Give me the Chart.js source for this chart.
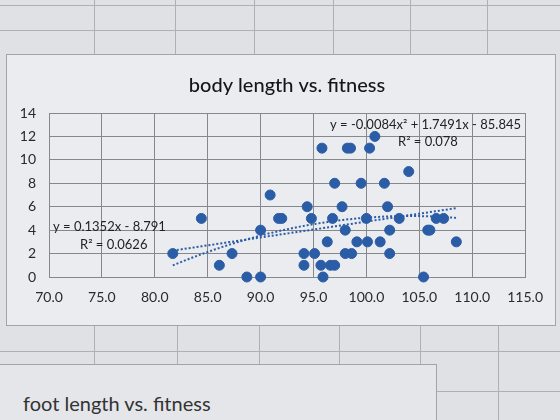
<!DOCTYPE html>
<html>
<head>
<meta charset="utf-8">
<script src="https://cdn.jsdelivr.net/npm/chart.js@4.4.0/dist/chart.umd.min.js"></script>
<style>
  body { margin: 0; width: 560px; height: 420px; overflow: hidden; background: #dfe1e5; position: relative; font-family: Lato, sans-serif; }
  .h { position: absolute; height: 1px; background: #aeb0b4; }
  .v { position: absolute; width: 1px; background: #aeb0b4; }
  #caja { position: absolute; left: 6px; top: 54px; width: 548px; height: 270px; border: 1px solid #a2a4a8; background: #eaecef; }
  #caja2 { position: absolute; left: -1px; top: 364px; width: 436px; height: 70px; border: 1px solid #a2a4a8; background: #e4e6e9; }
  #caja2 span { position: absolute; left: 23px; top: 26px; font-size: 20px; color: #333; }
</style>
</head>
<body>
<!-- lineas de la hoja de calculo -->
<div class="h" style="left:0;top:5px;width:560px"></div>
<div class="h" style="left:0;top:30px;width:560px"></div>
<div class="v" style="left:94px;top:0;height:54px"></div>
<div class="v" style="left:175px;top:0;height:54px"></div>
<div class="v" style="left:254px;top:0;height:54px"></div>
<div class="v" style="left:333px;top:0;height:54px"></div>
<div class="v" style="left:410px;top:0;height:54px"></div>
<div class="v" style="left:487px;top:0;height:54px"></div>
<div class="h" style="left:0;top:351px;width:560px"></div>
<div class="h" style="left:435px;top:391px;width:125px"></div>
<div class="v" style="left:94px;top:325px;height:40px"></div>
<div class="v" style="left:177px;top:325px;height:40px"></div>
<div class="v" style="left:259px;top:325px;height:40px"></div>
<div class="v" style="left:339px;top:325px;height:40px"></div>
<div class="v" style="left:420px;top:325px;height:40px"></div>
<div class="v" style="left:498px;top:325px;height:100px"></div>

<div id="caja"><canvas id="grafica" width="548" height="270"></canvas></div>
<div id="caja2"><span>foot length vs. fitness</span></div>

<script>
// datos
const longitud = [81.7, 84.4, 86.1, 87.3, 88.7, 90.0, 90.0, 90.9, 91.7, 92.0,
  94.4, 94.8, 97.0, 96.8, 96.3, 94.1, 95.1, 94.1, 95.7, 96.6,
  97.0, 95.9, 97.7, 98.0, 98.0, 98.6, 99.1, 99.5, 100.0, 100.1,
  101.3, 101.7, 102.0, 102.2, 102.2, 103.1, 104.0, 105.4, 105.8, 106.0,
  106.6, 107.3, 108.5, 100.8, 95.8, 98.2, 98.5, 100.3];
const fitness = [2, 5, 1, 2, 0, 0, 4, 7, 5, 5,
  6, 5, 8, 5, 3, 2, 2, 1, 1, 1,
  1, 0, 6, 4, 2, 2, 3, 8, 5, 3,
  3, 8, 6, 4, 2, 5, 9, 0, 4, 4,
  5, 5, 3, 12, 11, 11, 11, 11];

// coeficientes de las lineas de tendencia (de las ecuaciones del grafico)
const coefLineal = [-8.791, 0.1352];
const coefCuadratica = [-85.845, 1.7491, -0.0084];

const ticksX = [70, 75, 80, 85, 90, 95, 100, 105, 110, 115];
const ticksY = [0, 2, 4, 6, 8, 10, 12, 14];

const puntos = longitud.map((x, i) => ({ x: x, y: fitness[i] }));

function tendencia(coef) {
  const xmin = Math.min(...longitud), xmax = Math.max(...longitud);
  const pts = [];
  for (let k = 0; k <= 40; k++) {
    const x = xmin + (xmax - xmin) * k / 40;
    let y = 0;
    coef.forEach((c, p) => { y += c * Math.pow(x, p); });
    pts.push({ x: x, y: y });
  }
  return pts;
}

const azul = '#2b5ca6';
const gris = '#86888c';

// textos: titulo y ecuaciones
const textos = {
  id: 'textos',
  afterDraw(chart) {
    const ctx = chart.ctx;
    ctx.save();
    ctx.fillStyle = '#161616';
    ctx.textBaseline = 'middle';
    ctx.font = '500 20px Lato';
    ctx.textAlign = 'center';
    ctx.fillText('body length vs. fitness', 280, 31);
    ctx.font = '13px Lato';
    ctx.fillStyle = '#222';
    ctx.textAlign = 'left';
    ctx.fillText('y = -0.0084x\u00b2 + 1.7491x - 85.845', 323, 70);
    ctx.fillText('R\u00b2 = 0.078', 391, 87);
    ctx.fillText('y = 0.1352x - 8.791', 46, 172);
    ctx.fillText('R\u00b2 = 0.0626', 73, 190);
    ctx.restore();
  }
};

const ctx = document.getElementById('grafica').getContext('2d');
new Chart(ctx, {
  type: 'scatter',
  data: {
    datasets: [
      {
        type: 'line',
        data: tendencia(coefLineal),
        borderColor: azul,
        borderWidth: 2,
        borderDash: [2, 2],
        pointRadius: 0,
        fill: false,
        order: 0
      },
      {
        type: 'line',
        data: tendencia(coefCuadratica),
        borderColor: azul,
        borderWidth: 2,
        borderDash: [2, 2],
        pointRadius: 0,
        fill: false,
        order: 0
      },
      {
        data: puntos,
        backgroundColor: azul,
        borderColor: azul,
        pointRadius: 5,
        clip: false,
        order: 1
      }
    ]
  },
  options: {
    responsive: false,
    animation: false,
    layout: { padding: { left: 0, right: 25, top: 58, bottom: 0 } },
    plugins: {
      legend: { display: false },
      title: { display: false },
      tooltip: { enabled: false }
    },
    scales: {
      x: {
        type: 'linear',
        min: 70,
        max: 115,
        afterBuildTicks: s => { s.ticks = ticksX.map(v => ({ value: v })); },
        afterFit: s => { s.height = 48; },
        grid: { color: gris, drawTicks: false },
        border: { color: gris },
        ticks: {
          padding: 12,
          color: '#2a2a2a',
          font: { family: 'Lato', size: 14 },
          callback: v => v.toFixed(1)
        }
      },
      y: {
        min: 0,
        max: 14,
        afterBuildTicks: s => { s.ticks = ticksY.map(v => ({ value: v })); },
        afterFit: s => { s.width = 42; },
        grid: { color: gris, drawTicks: false },
        border: { color: gris },
        ticks: {
          padding: 13,
          color: '#2a2a2a',
          font: { family: 'Lato', size: 14 }
        }
      }
    }
  },
  plugins: [textos]
});
</script>
</body>
</html>
